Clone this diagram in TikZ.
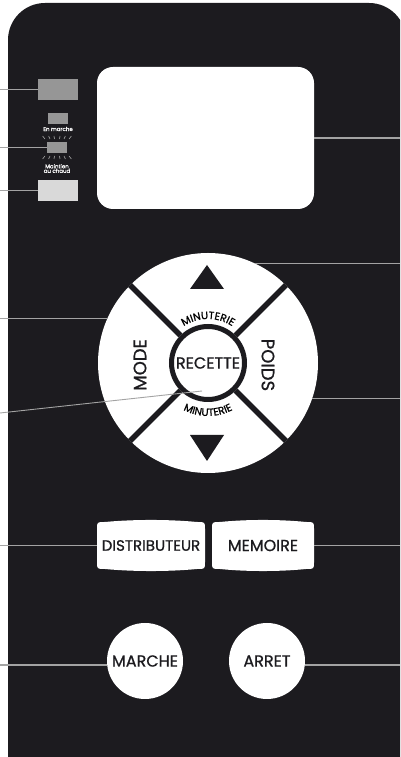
\documentclass[tikz,border=0pt]{standalone}
\usepackage{fontspec}
\setmainfont{Poppins}[BoldFont=Poppins,BoldFeatures={FakeBold=0.9}]
\usetikzlibrary{decorations.text}
\definecolor{panel}{HTML}{1C1B1F}
\definecolor{ledgray}{HTML}{969696}
\definecolor{ledlight}{HTML}{D9D9D9}
\definecolor{leadgray}{HTML}{A3A3A3}

% white key with slightly bulging top and bottom edges
\newcommand{\softkeyshape}[3]{%
  \pgfmathsetmacro\kx{#3/2}
  \fill[white,shift={(#1,#2)}] (-\kx,-16.5) -- (-\kx,16.5)
    .. controls (-\kx,23.5) .. (-\kx+8,23.5)
    .. controls (-\kx/3,26.2) and (\kx/3,26.2) .. (\kx-8,23.5)
    .. controls (\kx,23.5) .. (\kx,16.5) -- (\kx,-16.5)
    .. controls (\kx,-23.5) .. (\kx-8,-23.5)
    .. controls (\kx/3,-26.2) and (-\kx/3,-26.2) .. (-\kx+8,-23.5)
    .. controls (-\kx,-23.5) .. (-\kx,-16.5) -- cycle;
}

\begin{document}
\begin{tikzpicture}[x=1pt,y=1pt,
  callout/.style={draw=leadgray,line width=1.1pt},
  ray/.style={draw=leadgray,line width=0.6pt},
  bigled/.style={fill=#1,minimum width=40pt,minimum height=21pt,inner sep=0},
  smallled/.style={fill=ledgray,minimum width=20pt,minimum height=11pt,inner sep=0},
  tiny/.style={text=white,font=\bfseries\fontsize{5.5}{6}\selectfont,inner sep=0,align=center},
  keylabel/.style={text=panel,font=\bfseries\fontsize{#1}{#1}\selectfont,inner sep=0},
  keylabel/.default=16,
  roundkey/.style={circle,fill=white,minimum size=76pt,keylabel},
  softkey/.style={minimum height=51pt,keylabel=#1},
  softkey/.default=16]
\useasboundingbox (0,0) rectangle (400,757);
\clip (0,0) rectangle (400,757);
\fill[panel,rounded corners=37pt] (8,-60) rectangle (406,754);
\coordinate (westedge) at (0,0);
\coordinate (eastedge) at (400,0);

% indicator lamps
\node[bigled=ledgray] (ledtop) at (58,667.5) {};
\node[smallled] (ledon) at (58,638.5) {};
\node[tiny] (onlabel) at (58,628) {En marche};
\node[smallled] (ledkeep) at (57,609.5) {};
\foreach \d in {-12,-7,-2.5,2.5,7,12} {
  \draw[ray,shift={(ledkeep.center)}] (\d,8.5) -- ({1.2*\d},11.5);
  \draw[ray,shift={(ledkeep.center)}] (\d,-8.5) -- ({1.2*\d},-11.5);
}
\node[tiny] (keeplabel) at (57,588.5) {Maintien\\[-1.5pt]au chaud};
\node[bigled=ledlight] (ledbot) at (58,566.5) {};

% display
\node[fill=white,rounded corners=16pt,minimum width=217pt,minimum height=142pt,inner sep=0] (screen) at (205.5,619) {};

% dial
\node[circle,fill=white,minimum size=220pt,inner sep=0] (dial) at (208,394) {};
\node[circle,draw=panel,line width=5pt,fill=white,minimum size=73pt,keylabel] (recette) at (dial.center) {RECETTE};
\foreach \a in {45,135,225,315}
  \draw[panel,line width=5.5pt] (recette.\a) -- (dial.\a);
\fill[panel] (207,492) -- (190,468) -- (224,468) -- cycle;
\fill[panel] (207,296) -- (190,322) -- (224,322) -- cycle;
\node[keylabel=18,rotate=90] (mode) at (140,392) {MODE};
\node[keylabel=18,rotate=-90] (poids) at (268,392) {POIDS};
\path[decorate,decoration={text along path,text align=center,
  text={|\bfseries\fontsize{10.5}{10.5}\selectfont|MINUTERIE}}]
  ([shift={(145:44pt)}]dial.center) arc[start angle=145,end angle=35,radius=44pt];
\path[decorate,decoration={text along path,text align=center,
  text={|\bfseries\fontsize{10.5}{10.5}\selectfont|MINUTERIE}}]
  ([shift={(215:53pt)}]dial.center) arc[start angle=215,end angle=325,radius=53pt];

% lower keys
\softkeyshape{151}{211.5}{108}
\softkeyshape{263}{211.5}{102}
\node[softkey=15,minimum width=108pt] (distrib) at (151,211.5) {DISTRIBUTEUR};
\node[softkey,minimum width=102pt] (memoire) at (263,211.5) {MEMOIRE};
\node[roundkey] (marche) at (145,96) {MARCHE};
\node[roundkey] (arret) at (267,96) {ARRET};

% leader lines
\draw[callout] (ledtop.west) -- (ledtop.west -| westedge);
\draw[callout] (ledkeep.west) -- (ledkeep.west -| westedge);
\draw[callout] (ledbot.west) -- (ledbot.west -| westedge);
\draw[callout] (screen.east) -- (screen.east -| eastedge);
\draw[callout] (dial.65) -- (dial.65 -| eastedge);
\draw[callout] (dial.156) -- (dial.156 -| westedge);
\draw[callout] (dial.-19) -- (dial.-19 -| eastedge);
\coordinate (recpt) at (202,366);
\coordinate (recfoot) at (0,344);
\draw[callout,line width=0.9pt] (recpt) -- (recfoot);
\draw[callout] (distrib.west) -- (distrib.west -| westedge);
\draw[callout] (memoire.east) -- (memoire.east -| eastedge);
\draw[callout] (marche.186) -- (marche.186 -| westedge);
\draw[callout] (arret.-6) -- (arret.-6 -| eastedge);
\end{tikzpicture}
\end{document}
